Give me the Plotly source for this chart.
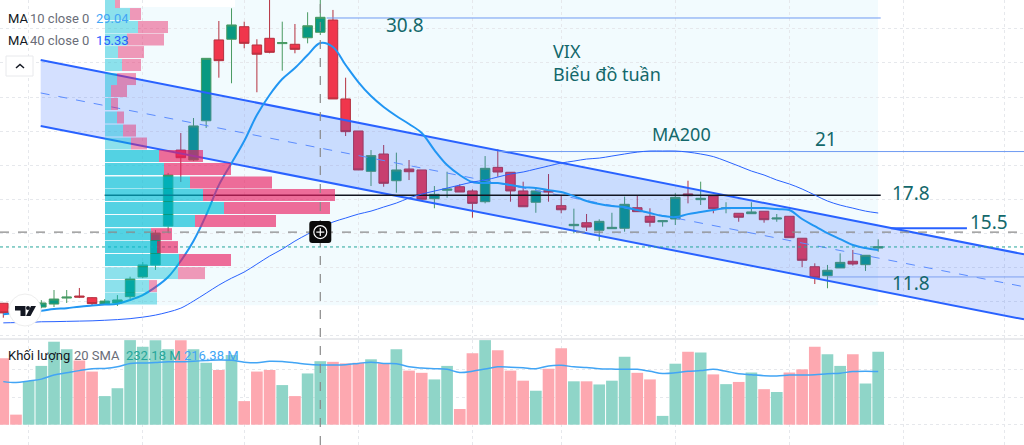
"""
    VIX weekly chart: candles, MA 10 / 40, channel, volume profile and volume
"""

import plotly.graph_objects as go

W, H = 1024, 445

# Candles, price units
candle_open = [9.87, 9.81, 9.45, 9.59, 9.81, 10.25, 10.40, 10.28, 9.81, 9.89,
               10.35, 11.80, 12.68, 15.54, 21.11, 20.38, 23.26, 29.19, 29.24, 30.16,
               28.82, 29.31, 28.92, 28.87, 29.35, 29.75, 30.65, 24.86, 22.51, 19.55,
               20.82, 18.86, 19.72, 19.65, 17.54, 18.16, 18.42, 18.11, 17.32, 19.84,
               19.48, 18.11, 17.28, 18.13, 17.03, 15.56, 15.78, 15.22, 15.34, 15.37,
               16.88, 16.25, 15.85, 16.05, 17.89, 17.47, 17.74, 16.81, 16.47, 16.44,
               16.62, 16.05, 16.25, 14.64, 12.55, 11.89, 12.46, 12.95, 12.70, 13.92]
candle_high = [9.89, 9.9, 10.0, 10.1, 10.84, 10.84, 10.99, 10.32, 10.18, 10.47,
               11.82, 12.90, 15.24, 19.43, 22.36, 23.46, 27.84, 30.58, 31.51, 30.53,
               29.24, 32.2, 30.53, 30.36, 31.22, 32.3, 31.39, 26.42, 22.51, 21.11,
               21.48, 20.92, 20.38, 19.65, 18.47, 19.52, 18.60, 18.23, 20.67, 21.17,
               19.48, 18.79, 18.30, 19.35, 17.76, 16.81, 16.42, 16.03, 16.51, 17.69,
               17.76, 16.84, 15.98, 17.94, 18.86, 18.79, 17.81, 17.28, 16.47, 17.28,
               16.62, 16.42, 16.25, 14.64, 12.80, 12.68, 13.53, 13.78, 13.39, 14.56]
candle_low = [8.81, 9.2, 9.3, 9.5, 9.59, 9.89, 10.25, 9.67, 9.74, 9.67,
              10.18, 11.72, 12.31, 15.02, 18.77, 20.3, 22.73, 26.42, 26.01, 28.58,
              25.35, 28.21, 26.93, 28.21, 28.94, 29.55, 24.86, 22.14, 19.65, 18.47,
              18.42, 17.98, 18.91, 17.50, 16.84, 17.61, 18.03, 16.15, 17.20, 19.15,
              17.32, 16.95, 16.51, 17.32, 16.47, 15.0, 15.17, 14.44, 15.34, 15.12,
              16.59, 15.49, 15.49, 15.61, 17.20, 17.08, 16.47, 16.47, 15.85, 16.44,
              15.78, 15.85, 14.68, 12.51, 11.28, 10.97, 12.46, 12.63, 12.24, 13.65]
candle_close = [9.16, 9.38, 9.81, 9.89, 10.18, 10.32, 10.32, 9.84, 10.03, 10.11,
                11.65, 12.68, 15.02, 19.28, 20.55, 22.88, 27.84, 27.67, 30.29, 28.94,
                28.14, 28.28, 29.0, 28.50, 30.23, 30.85, 24.86, 22.46, 19.65, 20.70,
                18.67, 19.65, 19.52, 17.50, 17.86, 18.25, 18.03, 17.20, 19.77, 19.50,
                18.11, 16.95, 18.11, 18.03, 16.73, 15.66, 15.46, 15.88, 15.44, 17.13,
                16.59, 15.81, 15.93, 17.64, 17.76, 17.57, 16.81, 16.86, 16.18, 16.57,
                16.0, 16.12, 14.68, 13.02, 11.74, 12.29, 12.87, 12.75, 13.39, 14.02]
bars = list(range(len(candle_open)))

ma10 = [9.07, 9.15, 9.22, 9.32, 9.44, 9.51, 9.62, 9.70, 9.77, 9.84,
        10.11, 10.47, 11.05, 11.80, 12.98, 14.44, 16.34, 18.54, 20.15, 21.77,
        23.68, 25.15, 26.32, 27.13, 28.08, 28.96, 28.67, 27.35, 26.10, 25.07,
        24.27, 23.61, 23.02, 22.36, 21.11, 20.01, 19.28, 18.76, 18.69, 18.69,
        18.54, 18.39, 18.32, 18.17, 18.03, 17.73, 17.37, 17.15, 17.00, 16.93,
        16.71, 16.49, 16.27, 16.19, 16.41, 16.56, 16.71, 16.85, 16.85, 16.85,
        16.85, 16.78, 16.71, 16.05, 15.53, 15.02, 14.58, 14.14, 13.92, 13.77]
ma40 = [8.43, 8.45, 8.46, 8.51, 8.52, 8.54, 8.56, 8.58, 8.62, 8.67,
        8.74, 8.85, 9.00, 9.22, 9.51, 10.03, 10.61, 11.20, 11.71, 12.16,
        12.74, 13.33, 13.84, 14.43, 14.94, 15.39, 15.83, 16.12, 16.41, 16.63,
        16.93, 17.22, 17.59, 17.88, 18.10, 18.32, 18.54, 18.76, 18.91, 19.13,
        19.35, 19.50, 19.72, 19.94, 20.16, 20.30, 20.45, 20.52, 20.67, 20.82,
        20.96, 21.04, 21.04, 21.04, 20.96, 20.82, 20.63, 20.30, 19.94, 19.57,
        19.28, 18.91, 18.62, 18.25, 17.81, 17.37, 17.07, 16.85, 16.63, 16.49]

# Volume, millions
volume = [211, 32, 139, 187, 264, 240, 204, 169, 91, 116,
          269, 248, 269, 240, 269, 240, 197, 174, 222, 75,
          169, 174, 126, 91, 163, 202, 200, 195, 197, 208,
          195, 240, 172, 165, 144, 187, 50, 227, 269, 237,
          172, 140, 108, 178, 243, 138, 138, 128, 140, 216,
          165, 144, 28, 194, 232, 230, 160, 129, 136, 166,
          113, 104, 166, 176, 248, 224, 187, 224, 131, 232]
volume_sma = [137, 134, 139, 145, 158, 165, 172, 178, 179, 184,
              195, 196, 198, 200, 200, 202, 204, 206, 205, 199,
              197, 202, 201, 197, 192, 190, 190, 191, 195, 199,
              195, 194, 184, 180, 178, 176, 166, 170, 177, 184,
              183, 181, 178, 187, 189, 184, 182, 178, 177, 176,
              176, 170, 163, 165, 170, 172, 176, 170, 162, 159,
              156, 155, 158, 158, 159, 162, 164, 169, 170, 169]

# Volume profile rows, bottom to top
profile_price = [10.21, 11.13, 12.08, 13.04, 13.99, 14.94, 15.90, 16.85, 17.81, 18.73, 19.72, 20.67,
                 21.59, 22.54, 23.50, 24.49, 25.44, 26.32, 27.35, 28.30, 29.22, 30.14, 31.09, 31.97]
profile_up = [52, 44, 73, 74, 52, 46, 90, 119, 98, 85, 59, 54,
              26, 18, 12, 6, 6, 12, 17, 13, 22, 33, 25, 10]
profile_down = [0, 8, 27, 52, 21, 21, 81, 106, 132, 82, 67, 44,
                16, 13, 7, 7, 16, 19, 19, 26, 37, 30, 11, 5]
profile_strong = [False, False, False, True, True, True, True, True, True, True, True, True,
                  False, False, False, False, False, False, False, False, False, False, False, False]

# Channel ends
channel_x = [2.95, 80.5]
channel_top = [27.72, 13.46]
channel_mid = [25.30, 11.08]
channel_bottom = [22.88, 8.69]

GRID_BARS = [2, 11, 19, 28, 37, 44, 53, 62, 71, 79]
CROSS_BAR = 25
CROSS_PRICE = 15.09
LAST_PRICE = 14.0
TEXT_GREEN = "#13686b"


def label(px, py, text, size=13, color="#131722", family="Roboto"):
    """
        Text placed by pixel position.
    """
    return dict(x=px / W, y=1 - py / H, xref="paper", yref="paper", text=text, showarrow=False,
                xanchor="left", yanchor="middle", align="left",
                font=dict(size=size, color=color, family=family))


def value_label(bar, price, text, size=19):
    return dict(x=bar, y=price, xref="x", yref="y", text=text, showarrow=False,
                font=dict(size=size, color=TEXT_GREEN, family="Noto Sans"))


def level(x0, x1, price, color, width=1.0):
    return go.Scatter(x=[x0, x1], y=[price, price], mode="lines", hoverinfo="skip",
                      line=dict(color=color, width=width))


def logo_shape(points):
    """
        Filled polygon for the logo, points in pixels.
    """
    path = "M " + " L ".join(f"{x / W} {1 - y / H}" for x, y in points) + " Z"
    return dict(type="path", xref="paper", yref="paper", path=path,
                fillcolor="#131722", line=dict(width=0))


fig = go.Figure()

# Channel
fig.add_trace(go.Scatter(x=channel_x, y=channel_top, mode="lines", line=dict(color="#2962ff", width=2)))
fig.add_trace(go.Scatter(x=channel_x, y=channel_bottom, mode="lines", line=dict(color="#2962ff", width=2),
                         fill="tonexty", fillcolor="rgba(41,98,255,0.2)"))
fig.add_trace(go.Scatter(x=channel_x, y=channel_mid, mode="lines",
                         line=dict(color="#5b8cff", width=1, dash="dash")))

# Levels
fig.add_trace(level(25.5, 69.2, 30.8, "#6f9bf2"))
fig.add_trace(level(39, 80.5, 21, "#6f9bf2"))
fig.add_trace(level(8, 69.2, 17.8, "#131722", 1.5))
fig.add_trace(level(70, 76, 15.38, "#2962ff", 2))
fig.add_trace(level(65, 80.5, 11.8, "#7ea0f0"))
fig.add_trace(level(-0.26, 80.5, LAST_PRICE, "#26a69a"))
fig.data[-1].line.dash = "dot"

fig.add_trace(go.Candlestick(x=bars, open=candle_open, high=candle_high, low=candle_low, close=candle_close,
                             increasing=dict(line=dict(color="#4a9a62", width=1), fillcolor="#089981"),
                             decreasing=dict(line=dict(color="#b5303f", width=1), fillcolor="#f0364c")))
fig.add_trace(go.Scatter(x=bars, y=ma10, mode="lines", line=dict(color="#2196f3", width=2, shape="spline")))
fig.add_trace(go.Scatter(x=bars, y=ma40, mode="lines", line=dict(color="#2962ff", width=1, shape="spline")))

# Volume profile
teal = ["rgba(0,188,212,0.66)" if s else "rgba(0,188,212,0.42)" for s in profile_strong]
pink = ["rgba(233,30,99,0.65)" if s else "rgba(233,30,99,0.45)" for s in profile_strong]
fig.add_trace(go.Bar(y=profile_price, x=profile_up, orientation="h", width=0.88, xaxis="x3", yaxis="y",
                     marker=dict(color=teal, line=dict(width=0))))
fig.add_trace(go.Bar(y=profile_price, x=profile_down, base=profile_up, orientation="h", width=0.88,
                     xaxis="x3", yaxis="y", marker=dict(color=pink, line=dict(width=0))))

# Volume pane
vol_colors = ["#8fd5c8" if c >= o else "#fda8b0" for o, c in zip(candle_open, candle_close)]
fig.add_trace(go.Bar(x=bars, y=volume, width=0.92, xaxis="x2", yaxis="y2",
                     marker=dict(color=vol_colors, line=dict(width=0))))
fig.add_trace(go.Scatter(x=bars, y=volume_sma, mode="lines", xaxis="x2", yaxis="y2",
                         line=dict(color="#42a5f5", width=1.5, shape="spline")))

grid = dict(showgrid=True, gridcolor="#e6e8ec", griddash="dot", gridwidth=1,
            showticklabels=False, zeroline=False, ticks="", showline=False)
cross = dict(color="#8a8a8a", width=1.2, dash="dash")

fig.update_layout(
    width=W, height=H, margin=dict(l=0, r=0, t=0, b=0),
    paper_bgcolor="white", plot_bgcolor="white",
    showlegend=False, barmode="overlay", boxgap=0.25, boxgroupgap=0,
    font=dict(family="Roboto"),
    xaxis=dict(range=[-0.26, 80.5], tickvals=GRID_BARS, rangeslider=dict(visible=False), **grid),
    xaxis2=dict(range=[-0.26, 80.5], tickvals=GRID_BARS, anchor="y2", **grid),
    xaxis3=dict(range=[-105, 919], overlaying="x", anchor="y", visible=False),
    yaxis=dict(range=[7.32, 32.12], domain=[107 / H, 1], dtick=2.5, **grid),
    yaxis2=dict(range=[-64.6, 269.4], domain=[0, 105 / H], tickvals=[0, 88, 176], anchor="x2", **grid),
    shapes=[
        # value area background
        dict(type="rect", layer="below", xref="x3", yref="y", x0=0, x1=773, y0=9.73, y1=32.12,
             fillcolor="#f2fbfe", line=dict(width=0)),
        dict(type="rect", layer="below", xref="x3", yref="y", x0=15, x1=130, y0=31.6, y1=32.12,
             fillcolor="white", line=dict(width=0)),
        # pane separator
        dict(type="line", xref="paper", yref="paper", x0=0, x1=1, y0=1 - 339 / H, y1=1 - 339 / H,
             line=dict(color="#e9eaed", width=2)),
        # crosshair
        dict(type="line", xref="x", yref="paper", x0=CROSS_BAR, x1=CROSS_BAR, y0=0, y1=1, line=cross),
        dict(type="line", xref="paper", yref="y", x0=0, x1=1, y0=CROSS_PRICE, y1=CROSS_PRICE, line=cross),
        # crosshair plus button
        dict(type="path", xref="x", yref="y", xsizemode="pixel", ysizemode="pixel",
             xanchor=CROSS_BAR, yanchor=CROSS_PRICE,
             path="M -8 -11 L 8 -11 Q 11 -11 11 -8 L 11 8 Q 11 11 8 11 L -8 11 Q -11 11 -11 8 L -11 -8 Q -11 -11 -8 -11 Z",
             fillcolor="#0a0a0a", line=dict(width=0)),
        dict(type="circle", xref="x", yref="y", xsizemode="pixel", ysizemode="pixel",
             xanchor=CROSS_BAR, yanchor=CROSS_PRICE, x0=-6.5, x1=6.5, y0=-6.5, y1=6.5,
             line=dict(color="white", width=1.2)),
        dict(type="line", xref="x", yref="y", xsizemode="pixel", ysizemode="pixel",
             xanchor=CROSS_BAR, yanchor=CROSS_PRICE, x0=-4, x1=4, y0=0, y1=0,
             line=dict(color="white", width=1.2)),
        dict(type="line", xref="x", yref="y", xsizemode="pixel", ysizemode="pixel",
             xanchor=CROSS_BAR, yanchor=CROSS_PRICE, x0=0, x1=0, y0=-4, y1=4,
             line=dict(color="white", width=1.2)),
        # legend collapse button
        dict(type="rect", xref="paper", yref="paper", x0=6 / W, x1=33 / W, y0=1 - 76 / H, y1=1 - 56 / H,
             fillcolor="white", line=dict(color="#e8e9ec", width=1)),
        dict(type="path", xref="paper", yref="paper", line=dict(color="#131722", width=1.5),
             path=f"M {16 / W} {1 - 68 / H} L {20 / W} {1 - 64.5 / H} L {24 / W} {1 - 68 / H}"),
        # logo
        dict(type="circle", xref="paper", yref="paper", x0=9 / W, x1=41 / W, y0=1 - 326 / H, y1=1 - 294 / H,
             fillcolor="white", line=dict(color="#eeeeee", width=1)),
        logo_shape([(15, 306), (25.5, 306), (25.5, 316), (20.5, 316), (20.5, 310.5), (15, 310.5)]),
        logo_shape([(31, 306), (36, 306), (30.5, 316), (26, 316)]),
        dict(type="circle", xref="paper", yref="paper", x0=26 / W, x1=30 / W, y0=1 - 310 / H, y1=1 - 306 / H,
             fillcolor="#131722", line=dict(width=0)),
    ],
    annotations=[
        label(6, 18, "MA"), label(28, 18, "10 close 0", color="#6a6d78"),
        label(94, 18, "29.04", color="#42a5f5"),
        label(6, 41, "MA"), label(28, 41, "40 close 0", color="#6a6d78"),
        label(94, 41, "15.33", color="#2962ff"),
        label(6, 355, "Khối lượng"), label(72, 355, "20 SMA", color="#6a6d78"),
        label(124, 355, "232.18 M", color="#26a69a"),
        label(182, 355, "216.38 M", color="#42a5f5"),
        value_label(31.7, 30.3, "30.8"),
        label(551, 62.5, "VIX<br>Biểu đồ tuần", 18, TEXT_GREEN, family="Noto Sans"),
        value_label(53.45, 22.3, "MA200", 18),
        value_label(64.9, 21.9, "21"),
        value_label(71.6, 17.95, "17.8"),
        value_label(77.7, 15.85, "15.5"),
        value_label(71.6, 11.35, "11.8"),
    ],
)

# page margin off, so the picture sits at the window corner
fig.write_html("out.html", config={"displayModeBar": False},
               post_script="document.body.style.margin='0';document.body.style.overflow='hidden';")
